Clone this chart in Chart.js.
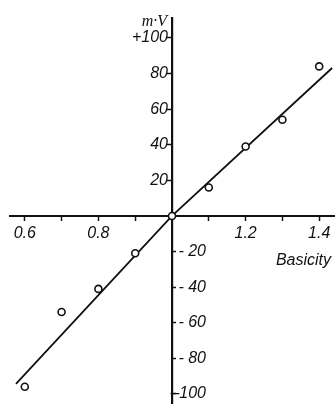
<!DOCTYPE html>
<html lang="en">
<head>
    <meta charset="UTF-8">
    <title>Potential vs basicity</title>
    <style>
        * {
            box-sizing: border-box;
            margin: 0;
            padding: 0;
        }
        body {
            background-color: #fff;
        }
        #chartContainer {
            width: 335px;
            height: 405px;
        }
    </style>
    <script src="https://cdn.jsdelivr.net/npm/chart.js"></script>
</head>
<body>
    <div id="chartContainer">
        <canvas id="dataChart"></canvas>
    </div>

    <script>
        // measured points (basicity, mV)
        const basicity = [0.6, 0.7, 0.8, 0.9, 1.0, 1.1, 1.2, 1.3, 1.4];
        const potential = [-96, -54, -41, -21, 0, 16, 39, 54, 84];

        // drawn fit line
        const lineX = [0.576, 1.0, 1.435];
        const lineY = [-94.4, 0, 83.1];

        const xTicks = [0.6, 0.7, 0.8, 0.9, 1.0, 1.1, 1.2, 1.3, 1.4];
        const xLabels = ['0.6', '', '0.8', '', '', '', '1.2', '', '1.4'];
        const posTicks = [20, 40, 60, 80, 100];
        const posLabels = ['20', '40', '60', '80', '+100'];
        const negTicks = [-20, -40, -60, -80, -100];
        const negLabels = ['- 20', '- 40', '- 60', '- 80', '\u2013100'];

        const ink = '#111';
        const font = { family: "'Liberation Sans', Arial, sans-serif", size: 16, style: 'italic' };

        function noPadding(scale) {
            scale.paddingTop = 0;
            scale.paddingBottom = 0;
            scale.paddingLeft = 0;
            scale.paddingRight = 0;
        }

        // helper for the extra y axes that only carry labels or tick marks
        function sideAxis(at, values, labels, showMarks) {
            return {
                type: 'linear',
                axis: 'y',
                min: -105.1,
                max: 111.2,
                position: { x: at },
                afterBuildTicks: s => { s.ticks = values.map(v => ({ value: v })); },
                afterFit: noPadding,
                ticks: {
                    display: !!labels,
                    callback: (v, i) => (labels ? labels[i] : ''),
                    autoSkip: false,
                    color: ink,
                    font: font
                },
                grid: {
                    display: showMarks,
                    drawOnChartArea: false,
                    tickLength: 4,
                    tickWidth: 1.5,
                    tickColor: ink
                },
                border: { display: false }
            };
        }

        // axis captions
        const captions = {
            id: 'captions',
            afterDraw(chart) {
                const ctx = chart.ctx;
                const xs = chart.scales.x;
                const ys = chart.scales.y;
                ctx.save();
                ctx.fillStyle = ink;
                ctx.textAlign = 'right';
                ctx.textBaseline = 'middle';
                ctx.font = "italic 16px 'Liberation Serif', serif";
                ctx.fillText('m\u00b7V', xs.getPixelForValue(1.0) - 5, chart.chartArea.top + 4);
                ctx.font = "italic 16px 'Liberation Sans', Arial, sans-serif";
                ctx.fillText('Basicity', chart.chartArea.right - 4, ys.getPixelForValue(0) + 45);
                ctx.restore();
            }
        };

        const ctx = document.getElementById('dataChart').getContext('2d');
        const chart = new Chart(ctx, {
            type: 'scatter',
            data: {
                datasets: [{
                    label: 'Measured',
                    data: basicity.map((b, i) => ({ x: b, y: potential[i] })),
                    pointRadius: 3.5,
                    pointBorderWidth: 1.6,
                    pointBackgroundColor: '#fff',
                    pointBorderColor: ink,
                    showLine: false
                }, {
                    label: 'Fit',
                    data: lineX.map((b, i) => ({ x: b, y: lineY[i] })),
                    showLine: true,
                    pointRadius: 0,
                    borderColor: ink,
                    borderWidth: 1.8,
                    tension: 0
                }]
            },
            options: {
                responsive: true,
                maintainAspectRatio: false,
                animation: false,
                layout: { autoPadding: false, padding: { left: 10, right: 0, top: 18, bottom: 2 } },
                plugins: {
                    legend: { display: false },
                    tooltip: { enabled: false }
                },
                scales: {
                    x: {
                        type: 'linear',
                        min: 0.5598,
                        max: 1.4429,
                        position: { y: 0 },
                        afterBuildTicks: s => { s.ticks = xTicks.map(v => ({ value: v })); },
                        afterFit: noPadding,
                        ticks: {
                            callback: (v, i) => xLabels[i],
                            autoSkip: false,
                            maxRotation: 0,
                            color: ink,
                            font: font,
                            padding: 4
                        },
                        grid: {
                            drawOnChartArea: false,
                            tickLength: 4,
                            tickWidth: 1.5,
                            tickColor: c => (c.tick && c.tick.value === 1.0 ? 'transparent' : ink)
                        },
                        border: { color: ink, width: 2 }
                    },
                    y: {
                        type: 'linear',
                        min: -105.1,
                        max: 111.2,
                        position: { x: 1.0 },
                        afterBuildTicks: s => { s.ticks = posTicks.map(v => ({ value: v })); },
                        afterFit: noPadding,
                        ticks: { display: false },
                        grid: {
                            drawOnChartArea: false,
                            tickLength: 4,
                            tickWidth: 1.5,
                            tickColor: ink
                        },
                        border: { color: ink, width: 2.2 }
                    },
                    yPosLabels: sideAxis(0.9891, posTicks, posLabels, false),
                    yNegMarks: sideAxis(1.0109, negTicks, null, true),
                    yNegLabels: sideAxis(1.0924, negTicks, negLabels, false)
                }
            },
            plugins: [captions]
        });
    </script>
</body>
</html>
